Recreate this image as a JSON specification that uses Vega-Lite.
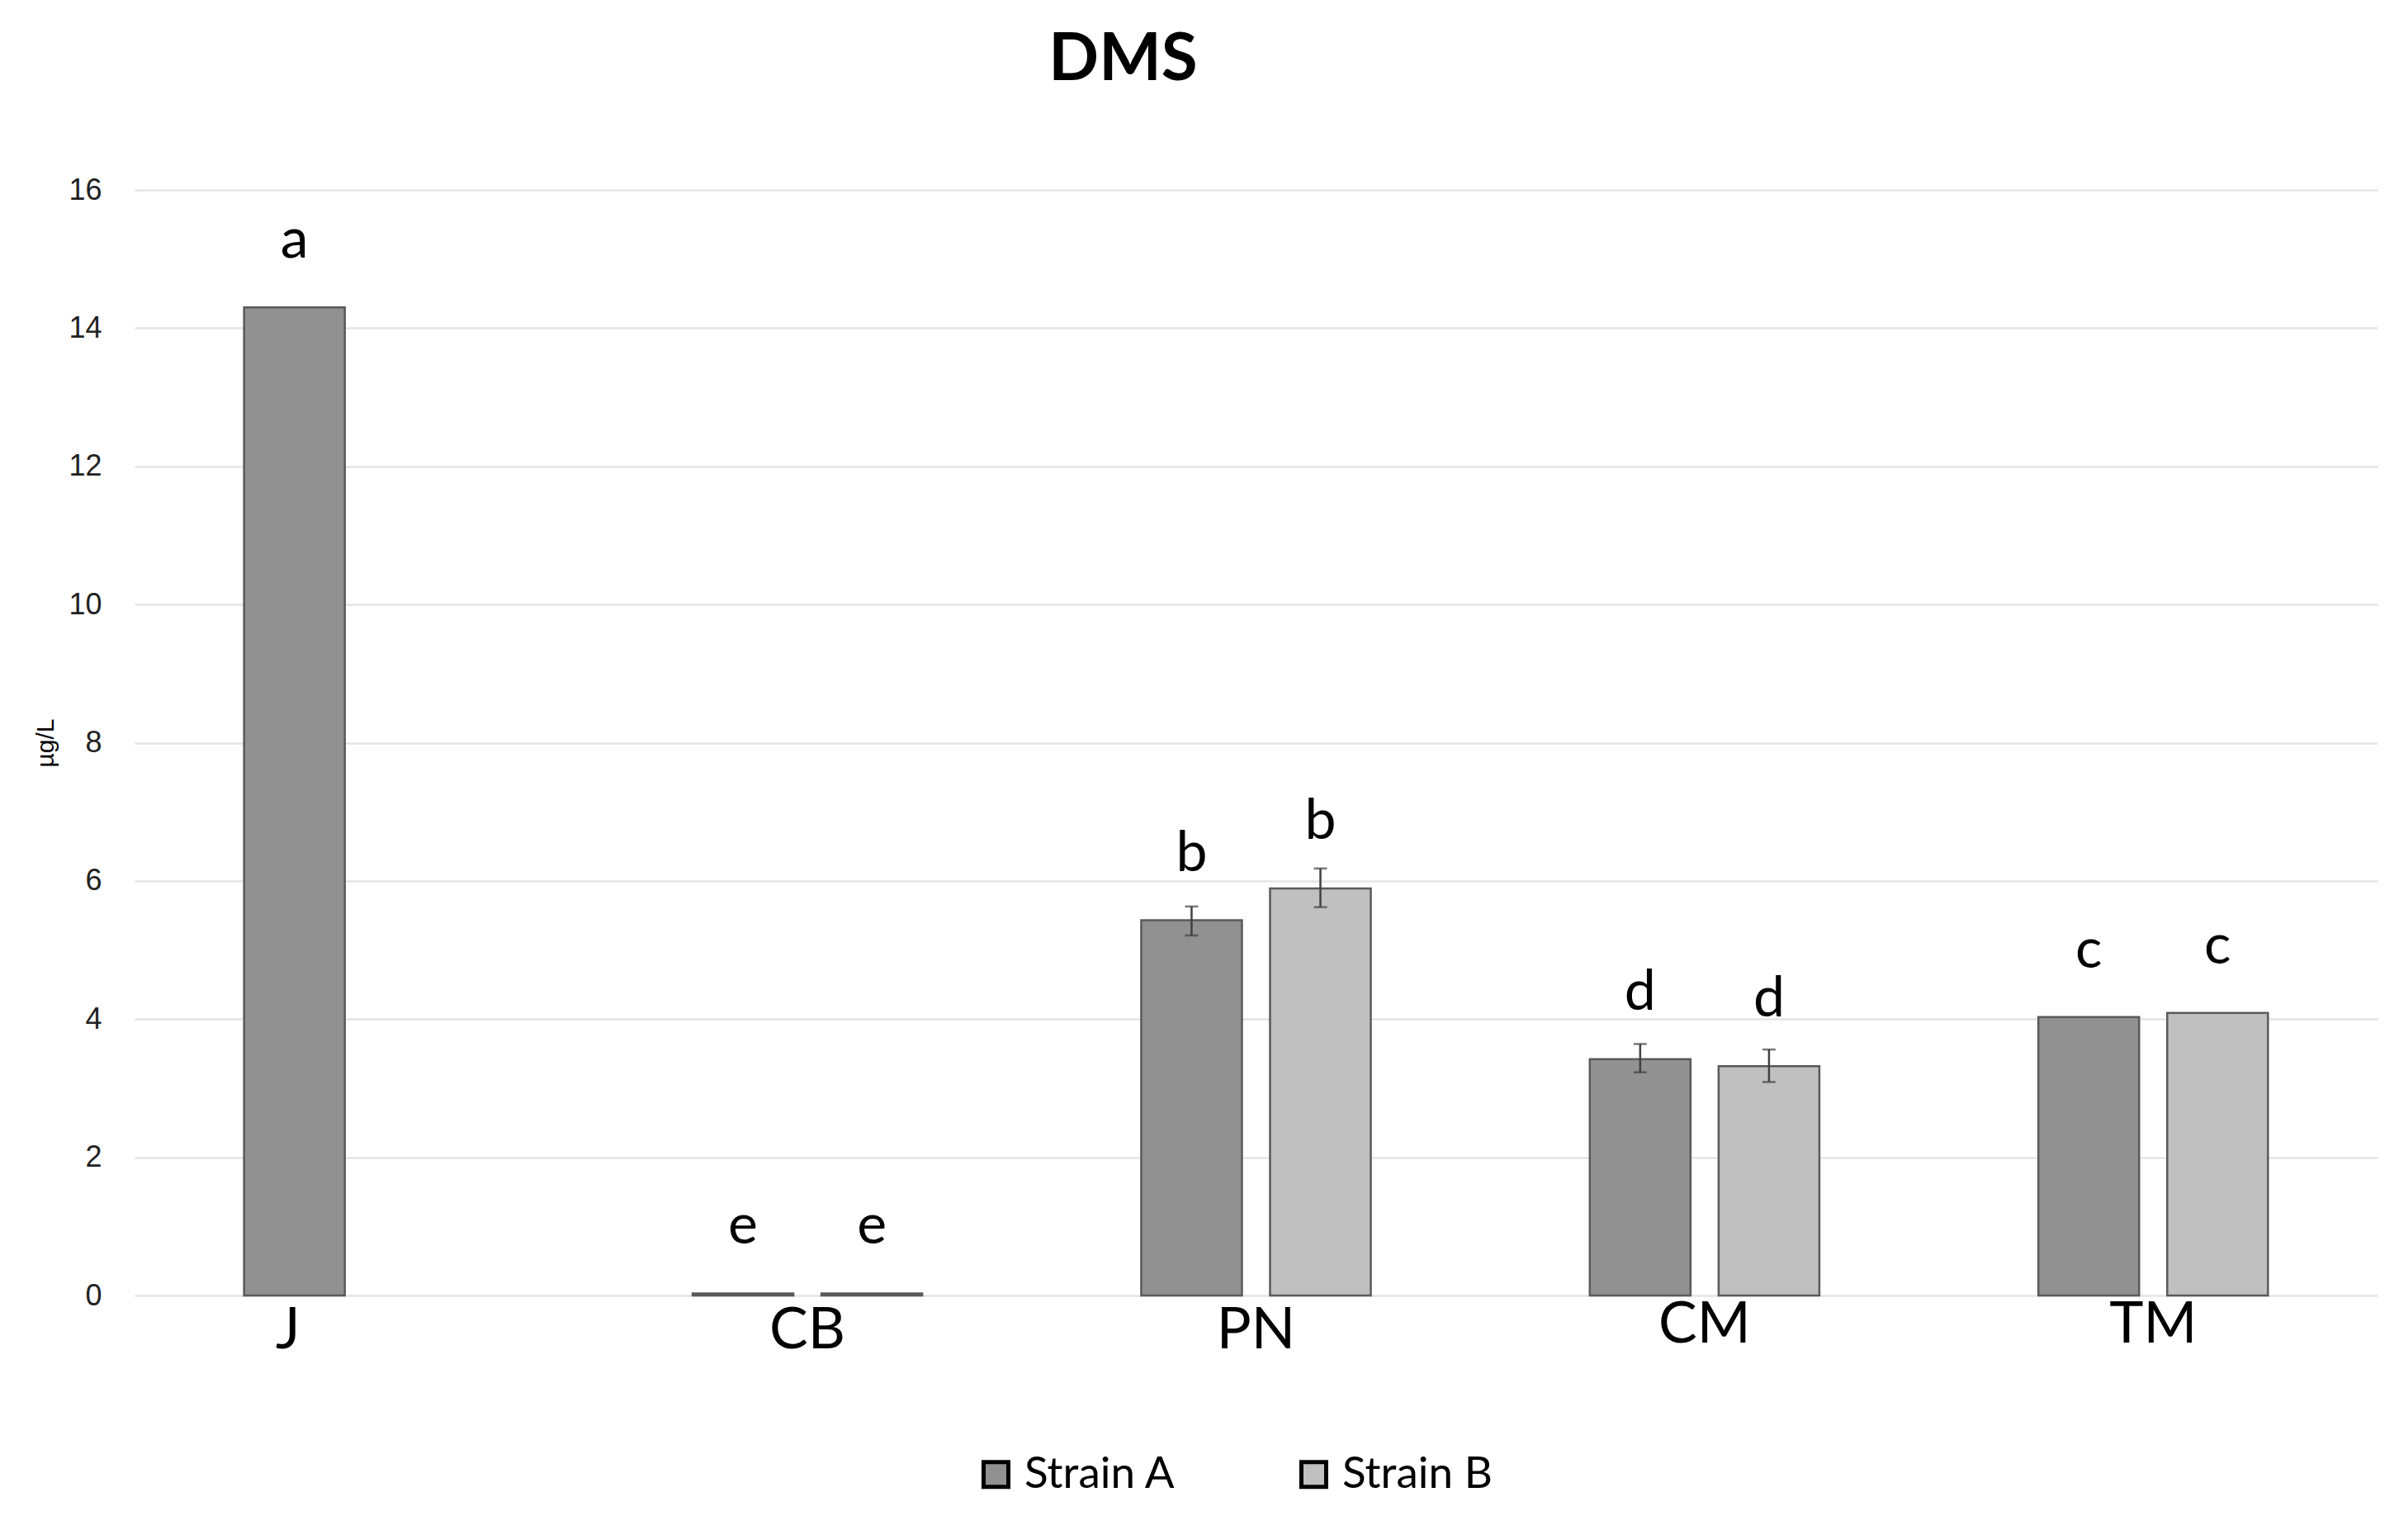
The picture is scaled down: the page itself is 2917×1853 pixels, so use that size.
{
  "$schema": "https://vega.github.io/schema/vega-lite/v6.json",
  "width": 2717,
  "height": 1339,
  "autosize": {"type": "none"},
  "padding": {"left": 163, "top": 230, "right": 37, "bottom": 284},
  "background": "white",
  "title": {
    "text": "DMS",
    "font": "Lato, sans-serif",
    "fontSize": 80,
    "fontWeight": "bold",
    "color": "black",
    "anchor": "middle",
    "dx": -161,
    "offset": 98
  },
  "data": {
    "values": [
      {"sample": "J", "strain": "Strain A", "value": 14.3, "letter": "a"},
      {"sample": "CB", "strain": "Strain A", "value": 0.03, "letter": "e"},
      {"sample": "CB", "strain": "Strain B", "value": 0.03, "letter": "e"},
      {"sample": "PN", "strain": "Strain A", "value": 5.43, "lo": 5.21, "hi": 5.63, "letter": "b"},
      {"sample": "PN", "strain": "Strain B", "value": 5.89, "lo": 5.62, "hi": 6.18, "letter": "b"},
      {"sample": "CM", "strain": "Strain A", "value": 3.42, "lo": 3.23, "hi": 3.64, "letter": "d"},
      {"sample": "CM", "strain": "Strain B", "value": 3.32, "lo": 3.09, "hi": 3.56, "letter": "d"},
      {"sample": "TM", "strain": "Strain A", "value": 4.03, "letter": "c"},
      {"sample": "TM", "strain": "Strain B", "value": 4.09, "letter": "c"}
    ]
  },
  "encoding": {
    "x": {
      "field": "sample",
      "type": "nominal",
      "sort": ["J", "CB", "PN", "CM", "TM"],
      "scale": {"paddingInner": 0, "paddingOuter": 0},
      "axis": {
        "title": null,
        "labelAngle": 0,
        "labelFont": "Lato, sans-serif",
        "labelFontSize": 70,
        "labelColor": "black",
        "labelPadding": {"condition": {"test": "datum.value === 'CM' || datum.value === 'TM'", "value": 1}, "value": 8},
        "labelOffset": {"condition": {"test": "datum.value === 'J'", "value": -86}, "value": 0},
        "ticks": false,
        "domain": false,
        "grid": false
      }
    },
    "xOffset": {
      "field": "strain",
      "type": "nominal",
      "sort": ["Strain A", "Strain B"],
      "scale": {"paddingInner": 0.218, "paddingOuter": 0.85}
    }
  },
  "layer": [
    {
      "mark": {"type": "bar", "stroke": "#5a5a5a", "strokeWidth": 2.5},
      "encoding": {
        "y": {
          "field": "value",
          "type": "quantitative",
          "scale": {"domain": [0, 16]},
          "axis": {
            "title": "µg/L",
            "titleFont": "Liberation Sans, Lato, sans-serif",
            "titleFontSize": 30,
            "titleFontWeight": "normal",
            "titleColor": "black",
            "titlePadding": 12,
            "values": [0, 2, 4, 6, 8, 10, 12, 14, 16],
            "format": "d",
            "labelFont": "Liberation Sans, Lato, sans-serif",
            "labelFontSize": 36,
            "labelColor": "#222222",
            "labelPadding": 40,
            "ticks": false,
            "domain": false,
            "gridColor": "#e4e4e4",
            "gridWidth": 2.5
          }
        },
        "color": {
          "field": "strain",
          "type": "nominal",
          "scale": {"domain": ["Strain A", "Strain B"], "range": ["#919191", "#c0c0c0"]},
          "legend": {
            "title": null,
            "orient": "none",
            "legendX": 1017,
            "legendY": 1529,
            "direction": "horizontal",
            "columns": 2,
            "columnPadding": 140,
            "padding": 0,
            "symbolType": "square",
            "symbolSize": 900,
            "symbolStrokeColor": "black",
            "symbolStrokeWidth": 5,
            "labelFont": "Lato, sans-serif",
            "labelFontSize": 53,
            "labelColor": "black",
            "labelOffset": 8,
            "labelLimit": 0
          }
        }
      }
    },
    {
      "mark": {"type": "rule", "color": "#404040", "strokeWidth": 2.5},
      "encoding": {
        "y": {"field": "lo", "type": "quantitative"},
        "y2": {"field": "hi"}
      }
    },
    {
      "mark": {"type": "tick", "color": "#404040", "size": 16, "thickness": 2.5},
      "encoding": {
        "y": {"field": "lo", "type": "quantitative"}
      }
    },
    {
      "mark": {"type": "tick", "color": "#404040", "size": 16, "thickness": 2.5},
      "encoding": {
        "y": {"field": "hi", "type": "quantitative"}
      }
    },
    {
      "mark": {
        "type": "text",
        "font": "Lato, sans-serif",
        "fontSize": 68,
        "color": "black",
        "align": "center",
        "baseline": "alphabetic",
        "dy": -60
      },
      "encoding": {
        "y": {"field": "value", "type": "quantitative"},
        "text": {"field": "letter", "type": "nominal"}
      }
    }
  ],
  "config": {
    "view": {"stroke": null}
  }
}
